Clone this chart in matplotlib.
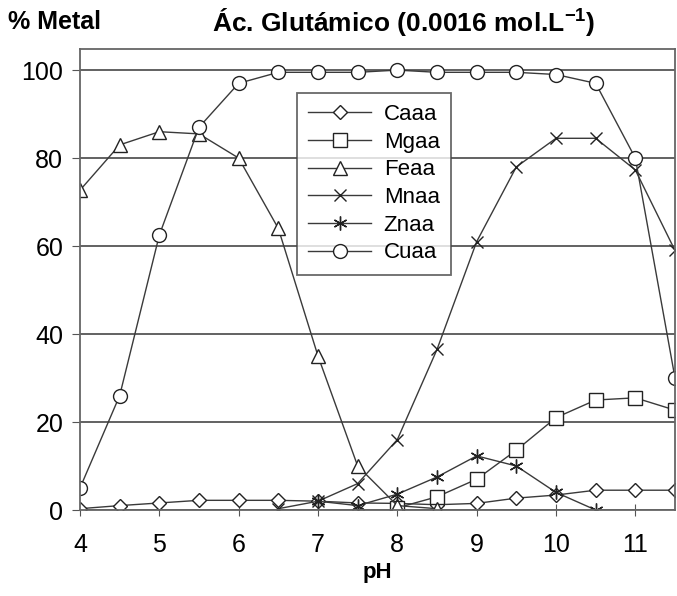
import matplotlib
matplotlib.use("Agg")
import matplotlib.pyplot as plt

plt.rcParams['font.family'] = ['Liberation Sans', 'DejaVu Sans']

# data
ph = [4, 4.5, 5, 5.5, 6, 6.5, 7, 7.5, 8, 8.5, 9, 9.5, 10, 10.5, 11, 11.5]
caaa = [0.3, 1, 1.6, 2.2, 2.2, 2.2, 2, 1.6, 1.5, 1.2, 1.5, 2.7, 3.4, 4.5, 4.5, 4.5]

ph_mg = [8, 8.5, 9, 9.5, 10, 10.5, 11, 11.5]
mgaa = [0.5, 3, 7, 13.6, 21, 25, 25.5, 22.7]

ph_fe = [4, 4.5, 5, 5.5, 6, 6.5, 7, 7.5, 8, 8.5]
feaa = [72.7, 83, 86, 85.5, 80, 64, 35, 10, 1, 0.3]

ph_mn = [6.5, 7, 7.5, 8, 8.5, 9, 9.5, 10, 10.5, 11, 11.5]
mnaa = [0.3, 2, 6, 16, 36.5, 61, 78, 84.5, 84.5, 77.3, 59]

ph_zn = [7, 7.5, 8, 8.5, 9, 9.5, 10, 10.5]
znaa = [2, 1, 3.6, 7.5, 12.3, 10, 4, 0]

cuaa = [5, 26, 62.5, 87, 97, 99.5, 99.5, 99.5, 100, 99.5, 99.5, 99.5, 99, 97, 80, 30]

fig = plt.figure(figsize=(6.77, 5.96), dpi=100)
ax = fig.add_axes([80 / 677, 1 - 510 / 596, 595 / 677, 461 / 596])

lc = '#3a3a3a'
kw = dict(color=lc, lw=1.0, markerfacecolor='white', markeredgecolor='#222222', markeredgewidth=1.0)
ax.plot(ph, caaa, marker='D', markersize=7, label='Caaa', **kw)
ax.plot(ph_mg, mgaa, marker='s', markersize=10, label='Mgaa', **kw)
ax.plot(ph_fe, feaa, marker='^', markersize=10, label='Feaa', **kw)
ax.plot(ph_mn, mnaa, marker='x', markersize=9, label='Mnaa', **kw)
ax.plot(ph_zn, znaa, marker=(6, 2, 0), markersize=10, label='Znaa', **kw)
ax.plot(ph, cuaa, marker='o', markersize=10, label='Cuaa', **kw)

ax.set_xlim(4, 11.5)
ax.set_ylim(0, 104.8)
ax.set_xticks([4, 5, 6, 7, 8, 9, 10, 11])
ax.set_yticks([0, 20, 40, 60, 80, 100])
ax.yaxis.grid(True, color='#555555', lw=1.3)
ax.set_axisbelow(True)
ax.tick_params(labelsize=18, color='#555555')
ax.tick_params(axis='x', direction='inout', length=9, pad=12)
ax.tick_params(axis='y', direction='out', length=6, pad=6)
for s in ax.spines.values():
    s.set_color('#666666')
    s.set_linewidth(1.3)

ax.set_xlabel('pH', fontsize=16, fontweight='bold', labelpad=4)
fig.text(8 / 677, 1 - 22 / 596, '% Metal', fontsize=18, fontweight='bold', va='center')
fig.text(404 / 677, 1 - 23 / 596, r'Ác. Glutámico (0.0016 mol.L$^{\mathregular{-1}}$)',
         fontsize=19, fontweight='bold', va='center', ha='center')

leg = ax.legend(loc='upper left', bbox_to_anchor=((297 - 80) / 595, (510 - 93) / 461),
                borderaxespad=0, fontsize=16, frameon=True, fancybox=False, edgecolor='#444444',
                handlelength=2.85, handletextpad=0.55, labelspacing=0.3, borderpad=0.5)
leg.get_frame().set_linewidth(1.3)

fig.savefig('out.png', dpi=100)
